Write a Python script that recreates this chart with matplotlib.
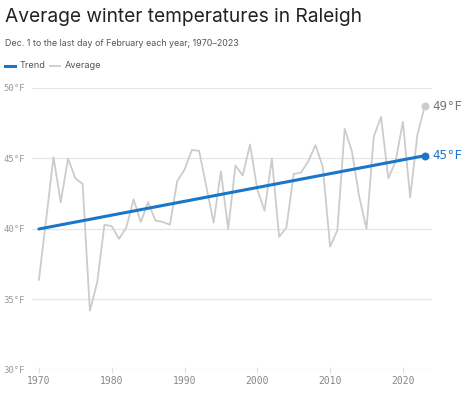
import matplotlib
matplotlib.use("Agg")
import matplotlib.pyplot as plt

years = list(range(1970, 2024))
average = [36.4, 40.7, 45.1, 41.9, 45.0, 43.6, 43.2, 34.2, 36.2, 40.3,
           40.2, 39.3, 40.1, 42.1, 40.5, 41.9, 40.6, 40.5, 40.3, 43.4,
           44.2, 45.6, 45.55, 43.0, 40.45, 44.1, 40.0, 44.5, 43.8, 46.0,
           42.8, 41.3, 45.0, 39.45, 40.1, 43.9, 44.0, 44.8, 45.95, 44.4,
           38.75, 39.9, 47.1, 45.5, 42.3, 40.0, 46.55, 47.95, 43.6, 44.8,
           47.6, 42.25, 46.7, 48.7]
trend_years = [1970, 2023]
trend = [40.0, 45.2]
y_ticks = [30, 35, 40, 45, 50]
x_ticks = [1970, 1980, 1990, 2000, 2010, 2020]

BLUE = "#1a76c9"
GRAY = "#cccccc"

fig = plt.figure(figsize=(4.74, 3.96), dpi=100)
ax = fig.add_axes([32 / 474, 1 - 370 / 396, 400 / 474, 282 / 396])

ax.plot(years, average, color=GRAY, linewidth=1.3, zorder=2)
ax.plot(trend_years, trend, color=BLUE, linewidth=2.2, zorder=3, solid_capstyle="round")
ax.scatter([years[-1]], [average[-1]], s=22, color=GRAY, zorder=4)
ax.scatter([trend_years[-1]], [trend[-1]], s=22, color=BLUE, zorder=4)

# end labels
ax.text(years[-1] + 1.0, average[-1], f"{round(average[-1])}°F", color="#777777",
        fontsize=9, va="center", ha="left", family="DejaVu Sans Mono")
ax.text(trend_years[-1] + 1.0, trend[-1], f"{round(trend[-1])}°F", color=BLUE,
        fontsize=9, va="center", ha="left", family="DejaVu Sans Mono")

ax.set_xlim(1969.05, 2024)
ax.set_ylim(30, 50)
for s in ax.spines.values():
    s.set_visible(False)
for t in y_ticks:
    ax.axhline(t, color="#e6e6e6" if t != 30 else "#dddddd", linewidth=0.9, zorder=1)

ax.set_yticks(y_ticks)
ax.set_yticklabels([f"{t}°F" for t in y_ticks], family="DejaVu Sans Mono",
                   fontsize=6.5, color="#999999")
ax.set_xticks(x_ticks)
ax.set_xticklabels([str(t) for t in x_ticks], family="DejaVu Sans Mono",
                   fontsize=7, color="#888888")
ax.tick_params(axis="y", length=0, pad=5)
ax.tick_params(axis="x", length=4, width=0.8, color="#e0e0e0", pad=2, direction="inout")

fig.text(5 / 474, 1 - 17 / 396, "Average winter temperatures in Raleigh",
         fontsize=13.8, color="#222222", va="center", ha="left", family="Inter")
fig.text(5 / 474, 1 - 44 / 396, "Dec. 1 to the last day of February each year; 1970\u20132023",
         fontsize=6.4, color="#555555", va="center", ha="left", family="Inter")

# legend drawn by hand
fig.add_artist(plt.Line2D([5 / 474, 15 / 474], [1 - 66 / 396] * 2, color=BLUE, linewidth=2.2))
fig.text(20 / 474, 1 - 66 / 396, "Trend", fontsize=6.6, color="#555555", va="center", family="Inter")
fig.add_artist(plt.Line2D([50 / 474, 60 / 474], [1 - 66 / 396] * 2, color=GRAY, linewidth=1.3))
fig.text(65 / 474, 1 - 66 / 396, "Average", fontsize=6.6, color="#555555", va="center", family="Inter")

fig.savefig("out.png", dpi=100)
